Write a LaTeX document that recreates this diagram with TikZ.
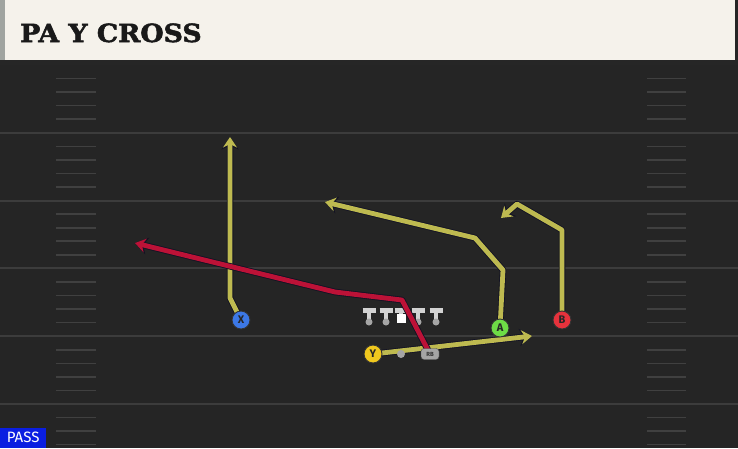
\documentclass[tikz,border=0pt]{standalone}
\usepackage{fontspec}
\setmainfont{DejaVu Serif}
\newfontfamily\titlefont[BoldFeatures={FakeBold=2}]{DejaVu Serif}
\newfontfamily\labfont{Fira Sans}
\usetikzlibrary{arrows.meta}
\definecolor{field}{RGB}{37,37,37}
\definecolor{cream}{RGB}{245,242,235}
\definecolor{strip}{RGB}{160,164,160}
\definecolor{yardline}{RGB}{60,60,60}
\definecolor{hashc}{RGB}{64,64,64}
\definecolor{routey}{RGB}{190,186,80}
\definecolor{router}{RGB}{188,18,55}
\definecolor{outl}{RGB}{18,18,36}
\definecolor{pblue}{RGB}{60,120,230}
\definecolor{pyellow}{RGB}{240,200,30}
\definecolor{pgreen}{RGB}{110,220,70}
\definecolor{pred}{RGB}{230,50,60}
\definecolor{lgray}{RGB}{210,210,210}
\definecolor{dgray}{RGB}{165,165,165}
\definecolor{passblue}{RGB}{10,30,225}
\tikzset{
  routeout/.style={draw=outl,line width=6.5pt,line join=round,-{Stealth[length=12.5pt,width=17pt,inset=4pt]}},
  routein/.style={line width=4.8pt,line join=round},
  player/.style={circle,minimum size=18pt,inner sep=0pt,draw=black!80,line width=0.9pt,font=\labfont\bfseries\fontsize{11}{11}\selectfont,text=black!85},
  hashm/.style={draw=hashc,line width=1.6pt},
  yline/.style={draw=yardline,line width=2pt},
  tbar/.style={draw=lgray,line width=5pt},
  tstem/.style={draw=lgray,line width=3.5pt},
  tdot/.style={circle,fill=dgray,minimum size=7pt,inner sep=0pt},
  ytip/.style={-{Stealth[length=10.5pt,width=14pt,inset=3.5pt,fill=routey]}},
  rtip/.style={-{Stealth[length=10.5pt,width=14pt,inset=3.5pt,fill=router]}},
}
\begin{document}
\begin{tikzpicture}[x=1pt,y=-1pt]
\useasboundingbox (0,0) rectangle (738,448);
% field
\fill[field] (0,0) rectangle (738,448);
% hash marks and yard lines
\foreach \k in {1,...,28}{
  \pgfmathsetmacro{\yy}{65+13.56*\k}
  \pgfmathtruncatemacro{\m}{mod(\k,5)}
  \ifnum\m=0
    \draw[yline] (0,\yy) -- (738,\yy);
  \else
    \draw[hashm] (56,\yy) -- (96,\yy);
    \draw[hashm] (647,\yy) -- (686,\yy);
  \fi
}
% title bar
\fill[black!85] (0,58) rectangle (738,65);
\fill[cream] (0,0) rectangle (735,60);
\fill[strip] (0,0) rectangle (5,60);
\node[anchor=base west,inner sep=0pt,font=\titlefont\bfseries\fontsize{25}{25}\selectfont,text=black!90] (title) at (20,42) {\scalebox{1.07}[1]{PA Y CROSS}};
% PASS label
\node[anchor=south west,fill=passblue,text=white,inner sep=0pt,minimum width=46pt,minimum height=20pt,font=\labfont\fontsize{15}{15}\selectfont] (pass) at (0,448) {PASS};

% players positions (nodes drawn later)
\coordinate (Xp) at (241,320);
\coordinate (Yp) at (373,354);
\coordinate (Ap) at (500,328);
\coordinate (Bp) at (562,320);
\coordinate (RBp) at (430,354);
% route bends
\coordinate (x1) at (230,298);
\coordinate (x2) at (230,137);
\coordinate (a1) at (503,270);
\coordinate (a2) at (475,238);
\coordinate (a3) at (325,202);
\coordinate (b1) at (562,230);
\coordinate (b2) at (517,204);
\coordinate (b3) at (501,218);
\coordinate (y1) at (532,336);
\coordinate (r1) at (402,300);
\coordinate (r2) at (335,292);
\coordinate (r3) at (135,243);

% yellow routes
\draw[routeout] (Xp) -- (x1) -- (x2);
\draw[routein,draw=routey,ytip] (Xp) -- (x1) -- (x2);
\draw[routeout] (Ap) -- (a1) -- (a2) -- (a3);
\draw[routein,draw=routey,ytip] (Ap) -- (a1) -- (a2) -- (a3);
\draw[routeout] (Bp) -- (b1) -- (b2) -- (b3);
\draw[routein,draw=routey,ytip] (Bp) -- (b1) -- (b2) -- (b3);
\draw[routeout] (Yp) -- (y1);
\draw[routein,draw=routey,ytip] (Yp) -- (y1);

% linemen
\foreach \xx/\nm in {369/lt,386/lg,418/rg,436/rt}{
  \draw[tbar] (\xx-6.5,310) -- (\xx+6.5,310);
  \draw[tstem] (\xx,310) -- (\xx,320);
  \node[tdot] (\nm) at (\xx,322) {};
}
\draw[tbar] (394.5,310) -- (407.5,310);
\draw[tstem] (401,310) -- (401,315);
\node[fill=white,minimum width=9pt,minimum height=9pt,inner sep=0pt] (c) at (401,318.5) {};

% red route
\draw[routeout] (RBp) -- (r1) -- (r2) -- (r3);
\draw[routein,draw=router,rtip] (RBp) -- (r1) -- (r2) -- (r3);

% QB dot and RB
\node[circle,fill=dgray,minimum size=8pt,inner sep=0pt] (qb) at (401,354) {};
\node[draw=black!70,fill=dgray,rounded corners=3pt,minimum width=18pt,minimum height=11pt,inner sep=0pt,font=\labfont\bfseries\fontsize{6}{6}\selectfont,text=black!80] (RB) at (RBp) {RB};

% players
\node[player,fill=pblue] (X) at (Xp) {X};
\node[player,fill=pyellow] (Y) at (Yp) {Y};
\node[player,fill=pgreen] (A) at (Ap) {A};
\node[player,fill=pred] (B) at (Bp) {B};
\end{tikzpicture}
\end{document}
